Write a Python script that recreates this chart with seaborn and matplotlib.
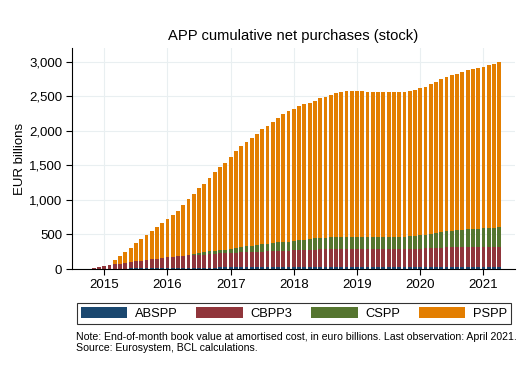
import numpy as np
import pandas as pd
import matplotlib
matplotlib.use("Agg")
import matplotlib.pyplot as plt
import matplotlib.ticker as ticker
from matplotlib.patches import Patch
import seaborn as sns

# end-of-month holdings, EUR bn, Oct 2014 .. Apr 2021
months = pd.date_range("2014-10-01", "2021-04-01", freq="MS")

abspp = [0, 0.4, 1.7,
         2.3, 3.6, 4.6, 5.4, 6.0, 7.3, 8.4, 9.6, 12.0, 14.0, 15.0, 15.3,
         16.0, 17.0, 18.0, 18.5, 19.0, 19.8, 20.0, 20.5, 21.0, 21.5, 22.0, 22.8,
         23.0, 23.5, 23.8, 24.0, 24.5, 24.5, 24.7, 25.0, 25.0, 25.0, 24.9, 25.0,
         25.0, 26.0, 26.0, 26.5, 27.0, 27.0, 27.0, 27.3, 27.5, 27.5, 27.5, 27.6,
         27.5, 27.0, 27.0, 26.5, 26.0, 26.0, 26.0, 26.0, 26.0, 26.5, 27.0, 27.1,
         28.0, 28.5, 29.0, 30.0, 30.5, 30.0, 30.0, 30.0, 30.0, 30.0, 29.5, 29.0,
         29.0, 28.5, 28.4, 28.3]

cbpp3 = [5, 21, 33,
         43, 54, 63, 72, 82, 93, 102, 108, 118, 126, 136, 143,
         153, 159, 166, 172, 177, 182, 185, 189, 195, 199, 203, 204,
         210, 213, 216, 220, 222, 224, 226, 229, 232, 236, 238, 241,
         244, 247, 250, 252, 254, 256, 257, 258, 259, 260, 261, 262,
         262, 262, 261, 261, 261, 262, 262, 263, 263, 264, 264, 265,
         267, 270, 275, 277, 280, 282, 283, 284, 285, 285, 286, 287,
         288, 289, 290, 291]

cspp = [0, 0, 0,
        0, 0, 0, 0, 0, 0, 0, 0, 0, 0, 0, 0,
        0, 0, 0, 0, 0, 10, 20, 30, 40, 45, 52, 51,
        60, 65, 76, 84, 93, 101, 108, 110, 117, 125, 130, 132,
        139, 145, 151, 157, 163, 168, 172, 173, 175, 177, 178, 178,
        178, 177, 177, 178, 178, 178, 178, 178, 179, 180, 183, 186,
        191, 196, 203, 215, 227, 233, 239, 245, 252, 257, 262, 267,
        272, 276, 280, 285]

pspp = [0, 0, 0,
        0, 0, 58, 111, 162, 209, 262, 312, 357, 410, 457, 503,
        554, 605, 655, 735, 812, 873, 942, 987, 1056, 1133, 1204, 1261,
        1328, 1406, 1464, 1510, 1560, 1608, 1663, 1705, 1749, 1795, 1850, 1893,
        1912, 1937, 1956, 1972, 1992, 2019, 2038, 2065, 2082, 2093, 2105, 2108,
        2109, 2110, 2101, 2101, 2101, 2100, 2095, 2094, 2089, 2087, 2107, 2112,
        2129, 2145, 2170, 2189, 2213, 2234, 2251, 2263, 2279, 2303, 2317, 2330,
        2339, 2354, 2363, 2386]

programmes = ["ABSPP", "CBPP3", "CSPP", "PSPP"]
colors = ["#1a476f", "#90353b", "#55752f", "#e37e00"]
year_labels = ["2015", "2016", "2017", "2018", "2019", "2020", "2021"]

df = pd.DataFrame({"month": months, "ABSPP": abspp, "CBPP3": cbpp3,
                   "CSPP": cspp, "PSPP": pspp})
df["idx"] = np.arange(len(df))
# running totals so the bars can be overlaid as a stack
stack = df[programmes].cumsum(axis=1)

plt.rcParams["font.family"] = ["Liberation Sans", "DejaVu Sans"]

fig = plt.figure(figsize=(5.28, 3.84), dpi=100)
ax = fig.add_axes([72 / 528, 1 - 269 / 384, (515 - 72) / 528, (269 - 48) / 384])

grid_c = "#e9eff1"
ax.set_axisbelow(True)
ax.grid(True, color=grid_c, linewidth=0.8)

for name, col in reversed(list(zip(programmes, colors))):
    sns.barplot(x=df["idx"], y=stack[name], native_scale=True, color=col,
                saturation=1, width=0.72, errorbar=None, linewidth=0, ax=ax)

tick_pos = [df.index[df["month"] == pd.Timestamp(f"{y}-01-01")][0] for y in year_labels]
ax.set_xticks(tick_pos)
ax.set_xticklabels(year_labels)
ax.set_xlim(tick_pos[0] - 6.13, tick_pos[-1] + 6.0)
ax.set_ylim(0, 3200)
ax.set_yticks([0, 500, 1000, 1500, 2000, 2500, 3000])
ax.yaxis.set_major_formatter(ticker.StrMethodFormatter("{x:,.0f}"))

for s in ["top", "right"]:
    ax.spines[s].set_visible(False)
for s in ["left", "bottom"]:
    ax.spines[s].set_color("black")
    ax.spines[s].set_linewidth(0.8)
ax.tick_params(axis="both", length=4, width=0.8, color="black",
               labelsize=9.5, labelcolor="black", pad=3)

ax.set_xlabel("")
ax.set_ylabel("EUR billions", fontsize=9.5, labelpad=2)
ax.set_title("APP cumulative net purchases (stock)", fontsize=10.6, pad=6)

handles = [Patch(facecolor=c, edgecolor="none") for c in colors]
leg = fig.legend(handles, programmes, loc="lower left",
                 bbox_to_anchor=(77 / 528, 1 - 324 / 384, (511 - 77) / 528, 24 / 384),
                 mode="expand", ncol=4, fontsize=9.3, frameon=True, fancybox=False,
                 handlelength=3.6, handleheight=0.95, handletextpad=0.6,
                 borderpad=0.3, borderaxespad=0, columnspacing=1.2)
leg.get_frame().set_edgecolor("black")
leg.get_frame().set_linewidth(0.8)

fig.text(76 / 528, 1 - 337 / 384,
         "Note: End-of-month book value at amortised cost, in euro billions. Last observation: April 2021.",
         fontsize=7.6, va="center", ha="left")
fig.text(76 / 528, 1 - 348 / 384, "Source: Eurosystem, BCL calculations.",
         fontsize=7.6, va="center", ha="left")

fig.savefig("out.png", dpi=100)
